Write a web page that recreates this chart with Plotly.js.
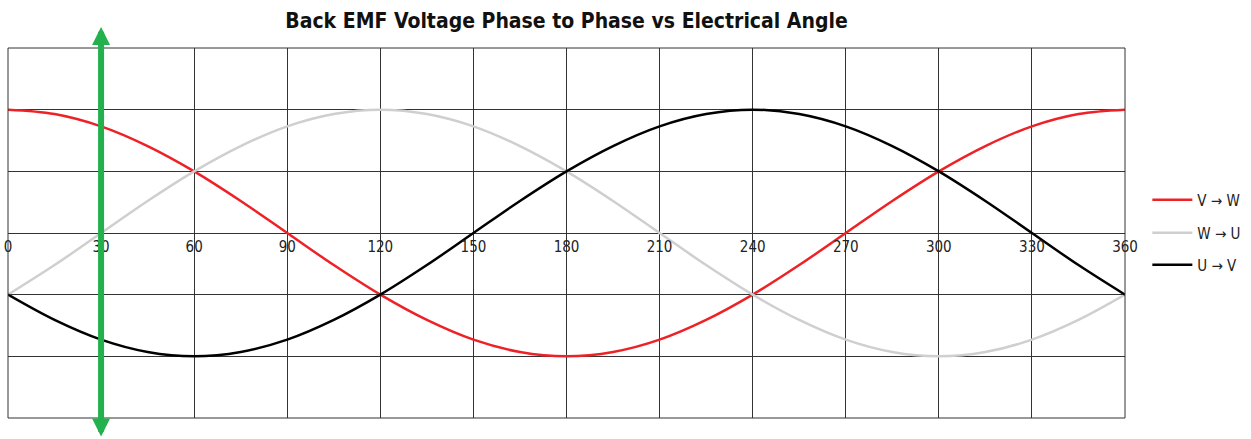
<!DOCTYPE html>
<html>
<head>
<meta charset="utf-8">
<script src="https://cdn.plot.ly/plotly-3.0.1.min.js"></script>
<style>html,body{margin:0;padding:0;background:#fff;}#chart{width:1251px;height:439px;}</style>
</head>
<body>
<div id="chart"></div>
<script>
// Electrical angle (degrees)
const angle = [0,15,30,45,60,75,90,105,120,135,150,165,180,195,210,225,240,255,270,285,300,315,330,345,360];
// Series values (grid units)
const vw = [2,1.93,1.73,1.41,1,0.52,0,-0.52,-1,-1.41,-1.73,-1.93,-2,-1.93,-1.73,-1.41,-1,-0.52,0,0.52,1,1.41,1.73,1.93,2];
const wu = [-1,-0.52,0,0.52,1,1.41,1.73,1.93,2,1.93,1.73,1.41,1,0.52,0,-0.52,-1,-1.41,-1.73,-1.93,-2,-1.93,-1.73,-1.41,-1];
const uv = [-1,-1.41,-1.73,-1.93,-2,-1.93,-1.73,-1.41,-1,-0.52,0,0.52,1,1.41,1.73,1.93,2,1.93,1.73,1.41,1,0.52,0,-0.52,-1];
const seriesNames = ['V \u2192 W','W \u2192 U','U \u2192 V'];
const tickVals = [0,30,60,90,120,150,180,210,240,270,300,330,360];
const tickText = ['0','30','60','90','120','150','180','210','240','270','300','330','360'];
const markerAngle = 30;

const FONT = '"DejaVu Sans Condensed", "Liberation Sans Narrow", Arial, sans-serif';

const traces = [
  {x: angle, y: vw, name: seriesNames[0], mode:'lines', line:{color:'#ee2226', width:2.5, shape:'spline'}, legend:'legend2', showlegend:true},
  {x: angle, y: wu, name: seriesNames[1], mode:'lines', line:{color:'#cfcfcf', width:2.5, shape:'spline'}, legend:'legend3', showlegend:true},
  {x: angle, y: uv, name: seriesNames[2], mode:'lines', line:{color:'#000000', width:2.5, shape:'spline'}, legend:'legend4', showlegend:true}
];

function leg(py) {
  return {xref:'paper', yref:'paper', x:1.02, xanchor:'left', y:(418-py)/370, yanchor:'middle', bgcolor:'rgba(0,0,0,0)',
    font:{family:FONT, size:15, color:'#222'}, itemwidth:40, visible:true};
}

const layout = {
  width:1251, height:439,
  margin:{l:8, r:126, t:48, b:21, autoexpand:false},
  showlegend:true,
  paper_bgcolor:'#fff', plot_bgcolor:'#fff',
  font:{family:FONT, color:'#222'},
  title:{text:'<b>Back EMF Voltage Phase to Phase vs Electrical Angle</b>', font:{family:FONT, size:21, color:'#111'},
    xref:'paper', x:0.5, xanchor:'center', yref:'container', y:0.953, yanchor:'middle'},
  xaxis:{range:[0,360], tickvals:tickVals, ticktext:tickText, showgrid:true, gridcolor:'#333', gridwidth:1,
    zeroline:false, showline:false, ticks:'', anchor:'free', position:0.5, fixedrange:true,
    tickfont:{family:FONT, size:15, color:'#222'}, ticklabelstandoff:3},
  yaxis:{range:[-3,3], dtick:1, showgrid:true, gridcolor:'#333', gridwidth:1, zeroline:true, zerolinecolor:'#333',
    zerolinewidth:1, showticklabels:false, ticks:'', fixedrange:true},
  legend:{visible:false},
  legend2: leg(200),
  legend3: leg(233),
  legend4: leg(265),
  shapes:[{type:'rect', xref:'paper', yref:'paper', x0:0, x1:1, y0:0, y1:1, line:{color:'#333', width:1}, layer:'above'}],
  annotations:[{x:markerAngle, xref:'x', y:(418-27)/370, yref:'paper', ax:0, ay:411, axref:'pixel', ayref:'pixel',
    text:'', showarrow:true, arrowside:'end+start', arrowhead:2, startarrowhead:2, arrowwidth:6, arrowsize:0.6, startarrowsize:0.6,
    arrowcolor:'#22b14c', standoff:0, startstandoff:0}]
};

Plotly.newPlot('chart', traces, layout, {displayModeBar:false, staticPlot:true});
</script>
</body>
</html>
